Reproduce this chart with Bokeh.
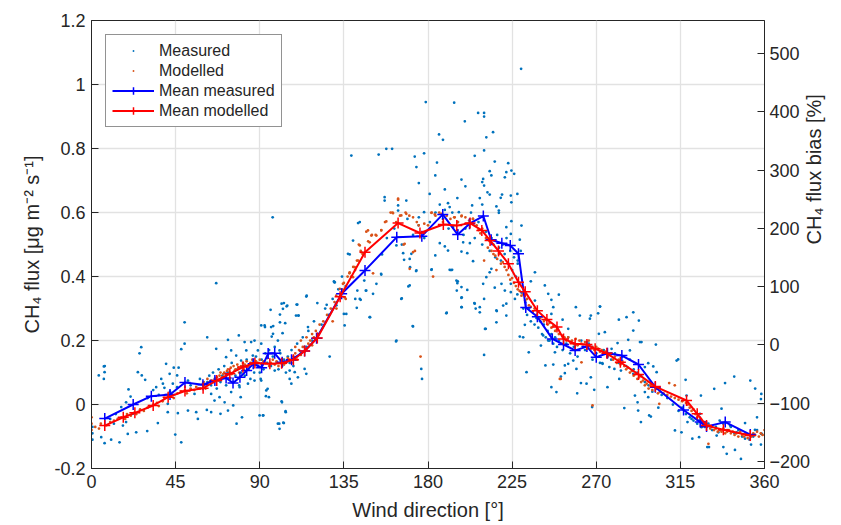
import math
from bokeh.plotting import figure
from bokeh.models import (Range1d, LinearAxis, FixedTicker, CustomJSTickFormatter,
                          Legend, LegendItem, ColumnDataSource)
from bokeh.embed import file_html
from bokeh.resources import INLINE

# ---------------- data (wind direction [deg], CH4 flux [ug m-2 s-1]) ----------------
x_ticks = [0, 45, 90, 135, 180, 225, 270, 315, 360]
y_ticks = [-0.2, 0, 0.2, 0.4, 0.6, 0.8, 1.0, 1.2]
bias_ticks = [-200, -100, 0, 100, 200, 300, 400, 500]

measured_0_60 = [
    (0.5, -0.07), (0.5, -0.09), (0.5, -0.11), (3.9, 0.091), (6.6, 0.119), (7, 0.101), (6.6, 0.08),
    (7.1, 0.12), (5.2, -0.102), (7, -0.121), (10.5, -0.11), (15, -0.118), (19.4, -0.092),
    (23.9, -0.087), (29.8, -0.083), (35.5, -0.058), (16.8, -0.066), (19.8, 0.047), (20.9, 0.025),
    (24.8, 0.101), (26.9, 0.091), (28.7, 0.077), (26.6, 0.179), (25.7, 0.16), (18.5, 0.007),
    (15.9, -0.008), (22.1, -0.029), (18.5, -0.055), (34.6, 0.054), (37.3, 0.08), (38.2, 0.065),
    (39, 0.052), (39.9, 0.127), (41.8, 0.096), (43.5, 0.065), (44, 0.115), (46.6, 0.115),
    (48, 0.173), (45.8, 0.091), (45.8, 0.054), (40.8, 0.002), (40.8, -0.024), (44.8, -0.094),
    (48, -0.118), (46.2, -0.027), (49.8, 0.257), (49.8, 0.19), (51.6, -0.019), (56, -0.024),
    (56.9, -0.045), (51.6, 0.075), (55.1, 0.033), (59.6, 0.065), (12, -0.06), (13, -0.03),
    (10, -0.045), (30, 0.02), (33, 0.045), (36, 0.03), (42, 0.04), (53, 0.06), (57, 0.05), (58, 0.08),
]

measured_60_130 = [
    (61.7, -0.017), (64, -0.024), (69, -0.029), (73, -0.019), (75.8, -0.003), (77.6, -0.06),
    (80.5, -0.04), (79.8, 0.023), (71.2, 0.007), (65.8, 0.0125), (61.9, 0.21), (73, 0.202),
    (78.8, 0.216), (81.9, 0.195), (85.4, 0.195), (87.2, 0.2), (64, 0.033), (68.5, 0.023),
    (74.7, 0.039), (79.2, 0.054), (83.7, 0.065), (87.2, 0.075), (90.5, 0.08), (89.9, -0.034),
    (66.7, 0.379), (66.7, 0.174), (72, 0.148), (77.4, 0.153), (74.7, 0.169), (80, 0.1375),
    (82.8, 0.169), (86.3, 0.153), (89, 0.169), (90.8, 0.247),
    (62, 0.07), (63, 0.09), (64, 0.06), (65, 0.1), (66, 0.08), (67, 0.05), (68, 0.11), (69, 0.07),
    (70, 0.09), (71, 0.12), (72, 0.06), (73, 0.1), (74, 0.08), (75, 0.13), (76, 0.07), (77, 0.09),
    (78, 0.11), (79, 0.06), (80, 0.1), (81, 0.12), (82, 0.09), (83, 0.14), (84, 0.11), (85, 0.08),
    (86, 0.13), (87, 0.1), (88, 0.15), (89, 0.12), (90, 0.1), (91, 0.14), (92, 0.11), (93, 0.16),
    (94, 0.13), (95, 0.17), (96, 0.12), (97, 0.15), (98, 0.18), (99, 0.13), (100, 0.11), (101, 0.16),
    (102, 0.12), (103, 0.14), (104, 0.1), (105, 0.15), (106, 0.13), (107, 0.17), (108, 0.12),
    (109, 0.14), (110, 0.19), (112, 0.16), (113, 0.21), (115, 0.18), (116, 0.23), (118, 0.2),
    (119, 0.26), (121, 0.22), (123, 0.25), (125, 0.3), (127, 0.28), (129, 0.33), (131, 0.31),
    (132, 0.36), (134, 0.4), (136, 0.37),
    (96.9, 0.585), (90.8, 0.19), (91.7, 0.127), (90.8, 0.075), (93.5, 0.044), (91.7, -0.034),
    (94.9, 0.023), (99.7, -0.06), (102.9, -0.058), (100.6, -0.076), (103.9, -0.024), (101.9, 0.007),
    (96.1, 0.242), (95.8, 0.296), (102.9, 0.317), (102.4, 0.299), (104.7, 0.309), (103.6, 0.254),
    (110.1, 0.3125), (110.8, 0.278), (114.9, 0.3375), (92.6, 0.247), (97.1, 0.221), (99.7, 0.2),
    (100.6, 0.169), (98, 0.106), (106, 0.106), (108.7, 0.101), (110.4, 0.085), (106.9, 0.065),
    (106, 0.08), (114.9, 0.096), (114, 0.111), (115.8, 0.242), (120.8, 0.317), (127.4, 0.15),
    (129.7, 0.385), (92.8, 0.242), (96.4, 0.2125), (97.2, 0.245), (101.7, 0.315), (104.4, 0.307),
    (109.7, 0.3125), (115.1, 0.34), (125.8, 0.3115), (130.2, 0.382), (110.6, 0.278), (100.8, 0.281),
    (100.8, 0.257), (102.2, 0.223), (109.4, 0.278), (103.8, -0.021), (100.4, -0.06), (102.6, -0.057),
    (91.9, -0.034), (93.3, 0.026), (101.7, 0.01), (94.2, 0.049),
]

measured_130_200 = [
    (135.4, 0.247), (136.3, 0.283), (137.2, 0.471), (138.1, 0.469), (139.9, 0.5125), (142.6, 0.567),
    (143.5, 0.57), (139, 0.778), (141.1, 0.33), (142.2, 0.356), (143.5, 0.33), (148.8, 0.273),
    (147, 0.356), (150.6, 0.346), (152.4, 0.377), (155, 0.406), (155.4, 0.469), (153.6, 0.781),
    (157.7, 0.799), (160.8, 0.799), (156.8, 0.648), (156.8, 0.6375), (164, 0.622), (164, 0.606),
    (168.4, 0.6375), (163.1, 0.497), (166.7, 0.473), (167.2, 0.452), (170.2, 0.455), (171.1, 0.471),
    (173.8, 0.419), (170.2, 0.372), (165.7, 0.33), (172, 0.244), (163.1, 0.2), (176.4, 0.111),
    (176.8, 0.08), (172.9, 0.775), (173.8, 0.742), (175.1, 0.692), (177.9, 0.785), (178.8, 0.945),
    (180.9, 0.658), (181.8, 0.421), (177.9, 0.601), (175.1, 0.585), (129.9, 0.382), (135, 0.283),
    (141.9, 0.302), (149, 0.273), (154.9, 0.408), (145.9, 0.3875), (146.7, 0.356), (144, 0.327),
    (166, 0.332), (171.8, 0.245), (162.9, 0.197), (190, 0.287), (170.4, 0.429), (173.6, 0.417),
    (182, 0.422), (192.3, 0.42), (195.4, 0.356), (195.9, 0.385), (198, 0.335), (198, 0.304),
    (169.5, 0.369), (194, 0.943), (199.7, 0.885), (185.9, 0.844), (188, 0.827), (184.8, 0.756),
    (183.9, 0.716), (197.9, 0.703), (200, 0.682), (189, 0.672), (195.7, 0.645), (190.7, 0.629),
    (186.3, 0.625), (191.6, 0.617), (196.5, 0.601), (189, 0.608), (193.4, 0.554), (195.7, 0.544),
    (186.3, 0.504), (189, 0.494), (190.7, 0.481), (197.9, 0.478), (183.9, 0.466), (198.8, 0.507),
    (191.6, 0.421), (192.9, 0.421), (195.2, 0.3875), (195.7, 0.379), (197.9, 0.367), (197.9, 0.333),
    (197.9, 0.304), (189.8, 0.285),
    (158, 0.52), (162, 0.55), (166, 0.5), (169, 0.58), (172, 0.53), (175, 0.56), (178, 0.52),
    (181, 0.57), (184, 0.6), (186, 0.56), (188, 0.58), (191, 0.55), (193, 0.6), (196, 0.57), (199, 0.53),
]

measured_200_275 = [
    (206.8, 0.911), (210, 0.911), (210, 0.9), (214.8, 0.851), (211.2, 0.835), (210, 0.794),
    (205, 0.777), (215.7, 0.759), (222.9, 0.754), (224.6, 0.731), (226.1, 0.721), (213, 0.729),
    (213.9, 0.716), (209.5, 0.705), (209, 0.695), (221.9, 0.726), (221.1, 0.71), (210, 0.684),
    (211.8, 0.663), (213, 0.656), (219.6, 0.656), (224.3, 0.653), (227.8, 0.658), (218.9, 0.646),
    (207.7, 0.645), (224.6, 0.632), (203.6, 0.622), (209, 0.625), (216.6, 0.619), (217.9, 0.606),
    (217.9, 0.599), (230, 0.559), (224.6, 0.573), (221.9, 0.554), (224.3, 0.533), (229.1, 0.515),
    (201, 0.473), (204.1, 0.448), (202.4, 0.504), (201, 0.358), (205, 0.315), (207.7, 0.304),
    (207.7, 0.288), (210, 0.33), (211.2, 0.398), (209.5, 0.377), (213.9, 0.424), (213, 0.413),
    (215.7, 0.365), (216.6, 0.294), (216.6, 0.257), (210.9, 0.2365), (210, 0.155), (220.2, 0.309),
    (221.9, 0.278), (221.9, 0.315), (219.3, 0.377), (221.1, 0.356), (224.3, 0.377), (224.3, 0.351),
    (226.5, 0.33), (227.8, 0.344), (231.8, 0.249), (229.1, 0.2125), (230.9, 0.21), (233.9, 0.163),
    (232.7, 0.101), (237.2, 0.413), (235, 0.385), (237.2, 0.325), (242.5, 0.372), (244.3, 0.346),
    (246, 0.327), (250, 0.343), (247, 0.304), (246, 0.283), (252, 0.265), (241.6, 0.216),
    (240.4, 0.184), (244.3, 0.2), (247.9, 0.163), (242.8, 0.122), (247, 0.125), (248.7, 0.039),
    (246, 0.054), (251.1, 0.0875), (253.2, 0.122), (253.2, 0.098), (255, 0.2365), (259.1, 0.304),
    (261.2, 0.278), (255, 0.21), (257.7, 0.1375), (259.4, 0.111), (255, 0.127), (259.8, 0.035),
    (261.8, 0.067), (264.8, 0.065), (267.1, 0.085), (267.1, 0.278), (266.6, 0.268), (268.9, 0.046),
    (267.8, -0.008), (272, 0.306), (271.4, 0.221), (273.2, 0.129), (229.8, 1.049), (204.8, 0.317),
    (205.5, 0.3), (210.5, 0.236), (216.8, 0.292), (229.6, 0.48), (228, 0.45),
    (200, 0.55), (203, 0.6), (205, 0.52), (207, 0.57), (209, 0.5), (211, 0.54), (213, 0.48),
    (214, 0.52), (215, 0.5), (216, 0.46), (217, 0.53), (218, 0.49), (219, 0.45), (220, 0.5),
    (221, 0.47), (222, 0.52), (223, 0.44), (224, 0.48), (225, 0.42), (226, 0.46), (227, 0.4),
    (228, 0.44), (229, 0.38), (230, 0.35), (231, 0.3), (232, 0.32), (233, 0.28), (234, 0.3),
    (235, 0.26), (236, 0.29), (237, 0.25), (238, 0.27), (239, 0.24), (240, 0.26), (241, 0.22),
    (242, 0.25), (243, 0.21), (244, 0.23), (245, 0.2), (246, 0.22), (247, 0.19), (248, 0.21),
    (249, 0.18), (250, 0.2), (252, 0.17), (254, 0.19), (256, 0.16), (258, 0.18), (260, 0.15),
    (262, 0.2), (264, 0.17), (266, 0.19), (268, 0.14), (270, 0.16), (272, 0.13), (274, 0.17),
]

measured_275_360 = [
    (272, 0.306), (271, 0.285), (282.1, 0.265), (286.2, 0.273), (289.8, 0.288), (292.8, 0.2625),
    (289.8, 0.231), (274.6, 0.226), (287.1, 0.202), (293.4, 0.195), (294.2, 0.195), (301.9, 0.1875),
    (281.4, 0.192), (278.2, 0.174), (288, 0.169), (273.4, 0.127), (277, 0.117), (279.7, 0.111),
    (283.2, 0.106), (282.3, 0.08), (276, 0.054), (289.8, 0.096), (296, 0.117), (297.8, 0.129),
    (300.5, 0.119), (302.3, 0.101), (290.7, 0.028), (292.1, 0.007), (296, 0.039), (297.8, 0.023),
    (298.3, -0.034), (299.2, -0.0375), (293.9, -0.055), (285, -0.011), (292.4, -0.019),
    (303.2, -0.01), (313, 0.1375), (313.8, 0.141), (317.8, 0.077), (318.3, 0.028), (326, 0.028),
    (333.1, 0.049), (338.9, 0.067), (343.8, 0.0875), (358.1, 0.017), (312.1, -0.081),
    (315.6, -0.087), (321.4, -0.107), (325, -0.102), (329.4, -0.133), (330.3, -0.133),
    (334.4, -0.097), (338, -0.133), (339.8, -0.154), (344.2, -0.142), (347.4, -0.17),
    (352.8, -0.125), (358.1, -0.125), (358.5, -0.092), (354.9, -0.079), (349.6, -0.058),
    (337, -0.013), (318.8, -0.055), (321, -0.045), (325.5, -0.029), (326.3, -0.071), (335.3, -0.087),
    (341.6, -0.066), (345.1, -0.087), (349.6, -0.107),
    (276, 0.15), (278, 0.14), (280, 0.16), (282, 0.13), (284, 0.15), (286, 0.12), (288, 0.14),
    (290, 0.11), (292, 0.1), (294, 0.09), (296, 0.07), (298, 0.06), (300, 0.04), (302, 0.05),
    (305, 0.03), (308, 0.02), (311, 0.0), (314, -0.02), (316, -0.01), (318, -0.03), (320, -0.04),
    (322, -0.05), (324, -0.06), (326, -0.05), (328, -0.07), (330, -0.06), (332, -0.08), (334, -0.07),
    (336, -0.05), (338, -0.06), (340, -0.08), (342, -0.07), (344, -0.09), (346, -0.08), (348, -0.1),
    (350, -0.09), (352, -0.11), (354, -0.1), (356, -0.08),
    (355, 0.05), (352.4, 0.075), (358.3, 0.033), (358.3, -0.092), (356, -0.04),
]

modelled_0_130 = [
    (0, -0.04), (0, -0.06), (0, -0.08), (2, -0.07), (4, -0.075), (5, -0.06), (8, -0.065), (10, -0.055),
    (12, -0.05), (14, -0.045), (16, -0.04), (18, -0.045), (19, -0.03), (21, -0.035), (23, -0.025),
    (24, -0.03), (26, -0.015), (28, -0.02), (30, -0.01), (31, -0.005), (33, 0.0), (35, 0.005),
    (36, -0.005), (38, 0.01), (39, 0.02), (41, 0.025), (43, 0.03), (44, 0.02), (46, 0.035), (48, 0.04),
    (50, 0.045), (51, 0.035), (53, 0.05), (55, 0.045), (56, 0.055), (58, 0.05), (60, 0.06), (61, 0.05),
    (62, 0.065), (63, 0.07), (64, 0.075), (65, 0.07), (66, 0.08), (67, 0.085), (68, 0.075),
    (68.5, 0.09), (69, 0.1), (70, 0.085), (70.5, 0.095), (71, 0.1), (72, 0.09), (72.5, 0.105),
    (73, 0.11), (74, 0.1), (74.5, 0.115), (75, 0.095), (76, 0.12), (76.5, 0.105), (77, 0.11),
    (78, 0.125), (78.5, 0.115), (79, 0.1), (80, 0.12), (81, 0.13), (81.5, 0.11), (82, 0.125),
    (83, 0.135), (84, 0.12), (85, 0.13), (86, 0.14), (87, 0.125), (88, 0.135), (89, 0.13), (90, 0.14),
    (91, 0.125), (92, 0.135), (93, 0.13), (94, 0.145), (95, 0.12), (96, 0.13), (97, 0.14), (98, 0.125),
    (99, 0.135), (100, 0.12), (101, 0.13), (102, 0.14), (103, 0.125), (104, 0.13), (105, 0.145),
    (106, 0.14), (107, 0.13), (108, 0.15), (109, 0.16), (110, 0.14), (111, 0.17), (112, 0.155),
    (113, 0.18), (114, 0.165), (115, 0.175), (116, 0.19), (117, 0.2), (118, 0.185), (119, 0.21),
    (120, 0.23), (121, 0.22), (122, 0.25), (124, 0.26), (126, 0.28), (128, 0.3), (129, 0.26),
    (112, 0.2), (115, 0.21), (118, 0.22), (109, 0.18), (60, 0.07), (62, 0.08),
]

modelled_130_250 = [
    (130, 0.32), (131, 0.3), (133, 0.34), (134, 0.36), (135, 0.38), (136, 0.33), (137, 0.4),
    (138, 0.41), (139, 0.4), (140, 0.43), (141, 0.42), (142, 0.45), (143, 0.5), (144, 0.48),
    (145, 0.47), (147, 0.54), (148, 0.51), (150, 0.53), (150.6, 0.41), (152, 0.53), (155, 0.545),
    (157, 0.57), (160, 0.6), (161, 0.6), (163, 0.57), (164, 0.64), (165, 0.59), (167, 0.5),
    (168, 0.6), (170, 0.59), (172, 0.585), (173, 0.48), (174, 0.57), (175, 0.56), (176, 0.15),
    (178, 0.565), (180, 0.56), (182, 0.6), (182.7, 0.4), (184, 0.59), (186, 0.6), (188, 0.57),
    (190, 0.59), (192, 0.58), (194, 0.585), (196, 0.57), (198, 0.59), (200, 0.585), (202, 0.575),
    (204, 0.58), (206, 0.56), (207, 0.545), (208, 0.535), (209, 0.55), (210, 0.45), (211, 0.52),
    (212, 0.49), (213, 0.51), (214, 0.48), (215, 0.47), (216, 0.465), (216.6, 0.42), (217, 0.455),
    (218, 0.47), (219, 0.44), (220, 0.445), (221, 0.43), (222, 0.42), (223, 0.405), (224, 0.39),
    (225, 0.395), (226, 0.38), (227, 0.37), (228, 0.36), (229, 0.355), (230, 0.34), (231, 0.345),
    (232, 0.325), (233, 0.33), (234, 0.31), (235, 0.305), (236, 0.29), (237, 0.3), (238, 0.28),
    (239, 0.29), (240, 0.27), (241, 0.275), (242, 0.26), (243, 0.265), (244, 0.25), (245, 0.255),
    (246, 0.24), (247, 0.245), (248, 0.23), (249, 0.235),
    (164, 0.643), (161.3, 0.598), (165.7, 0.591), (168.4, 0.596), (157.7, 0.572), (155, 0.544),
    (152.4, 0.528), (149.7, 0.528), (147.9, 0.544), (148.8, 0.507), (143.5, 0.497), (144.3, 0.476),
    (142.6, 0.45), (140.8, 0.429), (138.1, 0.413), (139.9, 0.398), (134.5, 0.377), (132.8, 0.3615),
    (130.9, 0.3406), (135.4, 0.335), (167.5, 0.502), (172, 0.476), (170.2, 0.424),
    (181.8, 0.599), (183.6, 0.594), (187.2, 0.596), (194.3, 0.585), (197.9, 0.588), (204.1, 0.58),
]

modelled_250_360 = [
    (250, 0.22), (251, 0.08), (252, 0.215), (253, 0.21), (254, 0.2), (255, 0.21), (256, 0.195),
    (257, 0.2), (258, 0.19), (259, 0.205), (260, 0.185), (261, 0.2), (262, 0.19), (263, 0.18),
    (264, 0.195), (265, 0.185), (266, 0.2), (267, 0.175), (268, 0.18), (268, -0.003), (269, 0.17),
    (270, 0.18), (271, 0.175), (272, 0.165), (273, 0.17), (274, 0.16), (275, 0.165), (276, 0.15),
    (277, 0.155), (278, 0.16), (279, 0.14), (280, 0.15), (281, 0.13), (282, 0.14), (283, 0.125),
    (284, 0.135), (285, 0.12), (286, 0.11), (287, 0.115), (288, 0.1), (289, 0.105), (290, 0.09),
    (291, 0.095), (292, 0.08), (293, 0.085), (294, 0.07), (295, 0.075), (296, 0.06), (297, 0.065),
    (298, 0.05), (299, 0.06), (300, 0.045), (302, 0.05), (303, 0.035), (304, 0.04), (306, 0.035),
    (308, 0.03), (309, 0.067), (310, 0.025), (312, 0.06), (312, 0.02), (314, 0.015), (316, 0.01),
    (318, 0.005), (319, 0.0), (320, -0.01), (321, -0.02), (322, -0.015), (323, -0.03), (324, -0.04),
    (325, -0.05), (326, -0.045), (327, -0.06), (328, -0.055), (329, -0.07), (330, -0.123),
    (330, -0.065), (331, -0.075), (332, -0.07), (333, -0.08), (334, -0.075), (335, -0.085),
    (336, -0.08), (337, -0.085), (338, -0.075), (339, -0.09), (340, -0.085), (341, -0.08),
    (342, -0.09), (343, -0.085), (344, -0.095), (345, -0.09), (346, -0.1), (347, -0.085),
    (348, -0.095), (349, -0.1), (350, -0.09), (351, -0.105), (352, -0.095), (353, -0.1),
    (354, -0.09), (355, -0.095), (356, -0.085), (357, -0.1), (358, -0.09), (359, -0.095), (360, -0.08),
    (262.1, 0.132), (303.7, 0.002), (250.5, 0.08),
]

mean_meas_deg = [7.1, 22.3, 32, 42, 50, 59.6, 66, 72, 75.7, 79.4, 83, 86.5, 91, 94.5, 98, 102, 107,
                 114, 120.4, 133.8, 146.3, 163.3, 176.7, 187.9, 195.9, 202.2, 209.6, 213.8, 219.5,
                 224, 228.4, 232.3, 238.5, 246.5, 252.5, 258.7, 265, 270, 276, 283.7, 292.6, 301.6,
                 316.7, 325.6, 329, 339, 352.4]
mean_meas_flux = [-0.044, 0.0, 0.026, 0.031, 0.069, 0.062, 0.075, 0.083, 0.067, 0.085, 0.106, 0.127,
                  0.115, 0.159, 0.16, 0.132, 0.14, 0.167, 0.207, 0.346, 0.419, 0.523, 0.526, 0.594,
                  0.531, 0.565, 0.589, 0.515, 0.504, 0.497, 0.471, 0.303, 0.274, 0.205, 0.1875,
                  0.169, 0.181, 0.148, 0.16, 0.153, 0.125, 0.054, -0.017, -0.055, -0.069, -0.055,
                  -0.094]

mean_mod_deg = [7.1, 17, 23.2, 33, 41, 50, 59.7, 67, 74, 81, 87.4, 95.4, 101.7, 108, 114, 120.8, 133,
                146.3, 164, 175.7, 188.2, 195.4, 202.5, 208.8, 213.2, 217.7, 223, 228.4, 232, 238.5,
                243.6, 249, 252.5, 258.7, 265, 269.4, 275.7, 282.9, 292.6, 301.6, 318.3, 324, 329,
                338, 352.4]
mean_mod_flux = [-0.066, -0.04, -0.026, -0.003, 0.023, 0.042, 0.051, 0.075, 0.096, 0.117, 0.13,
                 0.127, 0.129, 0.14, 0.167, 0.208, 0.337, 0.476, 0.567, 0.536, 0.5625, 0.559, 0.567,
                 0.544, 0.5125, 0.48, 0.44, 0.382, 0.352, 0.293, 0.266, 0.242, 0.205, 0.19, 0.1875,
                 0.174, 0.16, 0.132, 0.094, 0.056, 0.0125, -0.029, -0.066, -0.079, -0.097]

# ---------------- build figure ----------------
FONT = "Liberation Sans"
AX = "#262626"
BLUE_DOT = "#0072BD"
ORANGE_DOT = "#D95319"

measured = measured_0_60 + measured_60_130 + measured_130_200 + measured_200_275 + measured_275_360
modelled = modelled_0_130 + modelled_130_250 + modelled_250_360
src_meas = ColumnDataSource(dict(x=[d for d, f in measured], y=[f for d, f in measured]))
src_mod = ColumnDataSource(dict(x=[d for d, f in modelled], y=[f for d, f in modelled]))

p = figure(width=841, height=525, output_backend="svg", toolbar_location=None,
           x_range=Range1d(0, 360), y_range=Range1d(-0.2, 1.2),
           min_border_left=91, min_border_right=77, min_border_top=20, min_border_bottom=57,
           background_fill_color="white", border_fill_color="white")
p.outline_line_color = AX
p.outline_line_width = 1

p.extra_y_ranges = {"bias": Range1d(-212, 557)}

# axes styling
p.xaxis.ticker = FixedTicker(ticks=x_ticks)
p.yaxis.ticker = FixedTicker(ticks=y_ticks)
p.yaxis.formatter = CustomJSTickFormatter(code="return (Math.round(tick*10)/10).toString();")
p.xaxis.axis_label = "Wind direction [°]"
p.yaxis.axis_label = "CH₄ flux [μg m⁻² s⁻¹]"

right = LinearAxis(y_range_name="bias", ticker=FixedTicker(ticks=bias_ticks),
                   axis_label="CH₄ flux bias [%]")
p.add_layout(right, "right")

for ax in [p.xaxis[0], p.yaxis[0], right]:
    ax.axis_line_color = AX
    ax.major_tick_line_color = AX
    ax.major_tick_in = 7
    ax.major_tick_out = 0
    ax.minor_tick_line_color = None
    ax.major_label_text_font = FONT
    ax.major_label_text_font_size = "18px"
    ax.major_label_text_color = AX
    ax.axis_label_text_font = FONT
    ax.axis_label_text_font_size = "20px"
    ax.axis_label_text_font_style = "normal"
    ax.axis_label_text_color = AX
    ax.major_label_standoff = 6
    ax.axis_label_standoff = 8

right.axis_label_orientation = math.pi / 2
right.axis_label_standoff = 1
right.major_label_standoff = 5

p.xgrid.grid_line_color = "#e2e2e2"
p.ygrid.grid_line_color = "#e2e2e2"
p.xgrid.grid_line_width = 1.3
p.ygrid.grid_line_width = 1.3

r_meas = p.scatter("x", "y", source=src_meas, size=11, marker="dot",
                   line_color=BLUE_DOT, fill_color=BLUE_DOT)
r_mod = p.scatter("x", "y", source=src_mod, size=11, marker="dot",
                  line_color=ORANGE_DOT, fill_color=ORANGE_DOT)

l_meas = p.line(mean_meas_deg, mean_meas_flux, line_color="#0000FF", line_width=2)
m_meas = p.scatter(mean_meas_deg, mean_meas_flux, marker="cross", size=11,
                   line_color="#0000FF", line_width=1.5)
l_mod = p.line(mean_mod_deg, mean_mod_flux, line_color="#FF0000", line_width=2)
m_mod = p.scatter(mean_mod_deg, mean_mod_flux, marker="cross", size=11,
                  line_color="#FF0000", line_width=1.5)

legend = Legend(items=[
    LegendItem(label="Measured", renderers=[r_meas]),
    LegendItem(label="Modelled", renderers=[r_mod]),
    LegendItem(label="Mean measured", renderers=[l_meas, m_meas]),
    LegendItem(label="Mean modelled", renderers=[l_mod, m_mod]),
], location="top_left")
legend.margin = 14
legend.padding = 6
legend.spacing = 1
legend.glyph_width = 42
legend.glyph_height = 19
legend.label_height = 19
legend.label_standoff = 5
legend.label_text_font = FONT
legend.label_text_font_size = "16px"
legend.label_text_color = AX
legend.border_line_color = AX
legend.border_line_width = 1
legend.background_fill_color = "white"
legend.background_fill_alpha = 1
p.add_layout(legend)

open("out.html", "w").write(file_html(p, INLINE))
